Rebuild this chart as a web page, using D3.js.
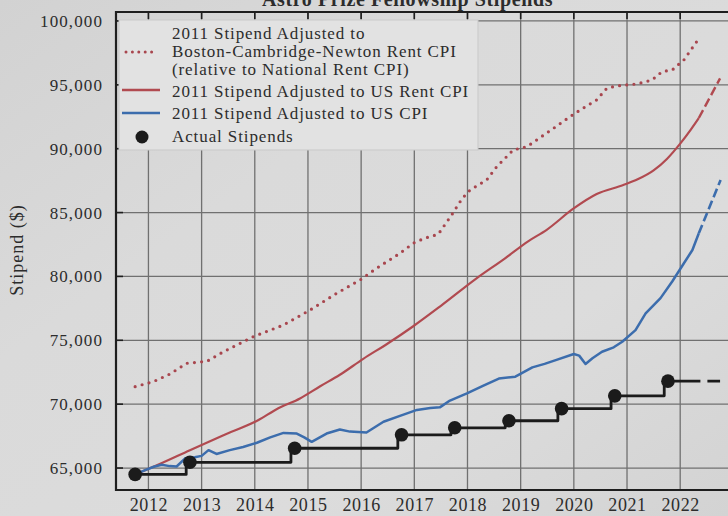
<!DOCTYPE html>
<html>
<head>
<meta charset="utf-8">
<script src="https://cdn.jsdelivr.net/npm/d3@7"></script>
<style>
  html, body { margin: 0; padding: 0; background: #d6d6d6; overflow: hidden; }
  svg { display: block; }
</style>
</head>
<body>
<svg id="chart" width="728" height="516"></svg>
<script>
// ---- data -------------------------------------------------------------
const yearTicks = [2012, 2013, 2014, 2015, 2016, 2017, 2018, 2019, 2020, 2021, 2022];
const stipendTicks = [65000, 70000, 75000, 80000, 85000, 90000, 95000, 100000];

// [decimal year, dollars]
const actualStipends = [
  [2011.75, 64500], [2012.78, 65450], [2014.75, 66550], [2016.76, 67600],
  [2017.76, 68150], [2018.78, 68700], [2019.77, 69650], [2020.77, 70650],
  [2021.77, 71800]
];
const stipendTailSolidEnd = 2022.38;
const stipendTailEnd = 2022.75;

const usCpi = [
  [2011.75, 64500], [2011.95, 64850], [2012.1, 65100], [2012.25, 65250], [2012.4, 65150],
  [2012.53, 65120], [2012.69, 65760], [2012.87, 65850], [2013.0, 65950], [2013.13, 66400],
  [2013.28, 66100], [2013.53, 66400], [2013.78, 66650], [2014.04, 66980], [2014.29, 67400],
  [2014.54, 67750], [2014.79, 67700], [2014.93, 67400], [2015.07, 67050], [2015.35, 67700],
  [2015.6, 68020], [2015.79, 67850], [2016.1, 67780], [2016.42, 68620], [2016.73, 69080],
  [2017.05, 69550], [2017.3, 69700], [2017.48, 69750], [2017.67, 70280], [2017.99, 70850],
  [2018.3, 71450], [2018.59, 72000], [2018.9, 72150], [2019.22, 72880], [2019.45, 73150],
  [2019.66, 73450], [2020.0, 73930], [2020.1, 73800], [2020.22, 73150], [2020.35, 73600],
  [2020.53, 74100], [2020.75, 74450], [2020.91, 74890], [2021.16, 75800], [2021.35, 77100],
  [2021.63, 78300], [2021.85, 79600], [2022.07, 81030], [2022.23, 82070], [2022.35, 83380]
];
const usCpiProjected = [[2022.35, 83380], [2022.76, 87550]];

const usRentCpi = [
  [2011.75, 64500], [2012.2, 65300], [2012.78, 66400], [2013.4, 67550], [2014.07, 68760],
  [2014.41, 69600], [2014.85, 70450], [2015.23, 71400], [2015.6, 72300], [2016.04, 73550],
  [2016.5, 74750], [2016.98, 76100], [2017.5, 77700], [2018.17, 79850], [2018.7, 81400],
  [2019.14, 82750], [2019.49, 83650], [2019.99, 85300], [2020.43, 86450], [2020.93, 87150],
  [2021.2, 87600], [2021.5, 88300], [2021.75, 89200], [2022.0, 90400], [2022.2, 91500],
  [2022.35, 92400]
];
const usRentCpiProjected = [[2022.35, 92400], [2022.75, 95500]];

const bostonRentCpi = [
  [2011.75, 71370], [2012.09, 71760], [2012.4, 72350], [2012.72, 73200], [2013.1, 73350],
  [2013.41, 74100], [2013.97, 75280], [2014.54, 76200], [2015.04, 77370], [2015.54, 78680],
  [2015.98, 79720], [2016.29, 80640], [2016.73, 81810], [2016.98, 82600], [2017.2, 83000],
  [2017.45, 83300], [2017.7, 84800], [2017.9, 86100], [2018.05, 86770], [2018.36, 87550],
  [2018.55, 88590], [2018.86, 89900], [2019.12, 90160], [2019.62, 91600], [2019.93, 92510],
  [2020.12, 93030], [2020.43, 93820], [2020.62, 94730], [2020.81, 94910], [2021.19, 95070],
  [2021.47, 95380], [2021.66, 96030], [2021.85, 96160], [2022.07, 96950], [2022.31, 98380]
];

const legendLabels = {
  boston: ["2011 Stipend Adjusted to", "Boston-Cambridge-Newton Rent CPI", "(relative to National Rent CPI)"],
  rent: "2011 Stipend Adjusted to US Rent CPI",
  cpi: "2011 Stipend Adjusted to US CPI",
  actual: "Actual Stipends"
};
const titleText = "Astro Prize Fellowship Stipends";
const yAxisLabel = "Stipend ($)";

// ---- styling ----------------------------------------------------------
const COLORS = {
  red: "#b14a50",
  boston: "#a8464e",
  blue: "#3c6dad",
  black: "#1b1b1b",
  text: "#2c2c2c",
  grid: "#707070",
  frame: "#1e1e1e"
};
const SERIF = "'Liberation Serif', 'DejaVu Serif', serif";

// ---- layout -----------------------------------------------------------
const svg = d3.select("#chart");
const W = 728, H = 516;
const plot = { left: 116, right: 744, top: 12, bottom: 490 };

const x = d3.scaleLinear().domain([2011.39, 2023.2]).range([plot.left, plot.right]);
const y = d3.scaleLinear().domain([63280, 100700]).range([plot.bottom, plot.top]);

// paper background
const defs = svg.append("defs");
const paper = defs.append("linearGradient").attr("id", "paper").attr("x1", 0).attr("x2", 1).attr("y1", 0).attr("y2", 1);
paper.append("stop").attr("offset", 0).attr("stop-color", "#d2d2d2");
paper.append("stop").attr("offset", 0.35).attr("stop-color", "#dadada");
paper.append("stop").attr("offset", 0.7).attr("stop-color", "#dcdcdc");
paper.append("stop").attr("offset", 1).attr("stop-color", "#d3d3d3");
svg.append("rect").attr("width", W).attr("height", H).attr("fill", "url(#paper)");

// title (runs off the top edge of the page)
svg.append("text")
  .attr("x", 262).attr("y", 6)
  .attr("font-family", SERIF).attr("font-size", 20).attr("font-weight", "bold")
  .attr("letter-spacing", 0.6)
  .attr("fill", COLORS.text)
  .text(titleText);

// grid
const grid = svg.append("g").attr("stroke", COLORS.grid).attr("stroke-width", 1.3);
grid.selectAll("line.v").data(yearTicks).join("line")
  .attr("x1", d => x(d)).attr("x2", d => x(d))
  .attr("y1", plot.top).attr("y2", plot.bottom);
grid.selectAll("line.h").data(stipendTicks).join("line")
  .attr("x1", plot.left).attr("x2", plot.right)
  .attr("y1", d => y(d)).attr("y2", d => y(d));

// tick marks on the frame
const ticks = svg.append("g").attr("stroke", COLORS.frame).attr("stroke-width", 1.6);
ticks.selectAll("line.t").data(yearTicks).join("line")
  .attr("x1", d => x(d)).attr("x2", d => x(d))
  .attr("y1", plot.top).attr("y2", plot.top + 7);
ticks.selectAll("line.l").data(stipendTicks).join("line")
  .attr("x1", plot.left).attr("x2", plot.left + 7)
  .attr("y1", d => y(d)).attr("y2", d => y(d));

// frame
svg.append("path")
  .attr("d", `M${plot.right},${plot.top}H${plot.left}V${plot.bottom}H${plot.right}`)
  .attr("fill", "none").attr("stroke", COLORS.frame).attr("stroke-width", 2.2);

// axis labels via d3 axes (domain/ticks hidden, labels only)
const yAxis = svg.append("g")
  .attr("transform", `translate(${plot.left},0)`)
  .call(d3.axisLeft(y).tickValues(stipendTicks).tickFormat(d3.format(",")).tickSize(0).tickPadding(13));
yAxis.select(".domain").remove();
yAxis.selectAll("text")
  .attr("font-family", SERIF).attr("font-size", 17).attr("letter-spacing", 1.1)
  .attr("fill", COLORS.text);

const xAxis = svg.append("g")
  .attr("transform", `translate(0,${plot.bottom})`)
  .call(d3.axisBottom(x).tickValues(yearTicks).tickFormat(d3.format("d")).tickSize(0).tickPadding(8));
xAxis.select(".domain").remove();
xAxis.selectAll("text")
  .attr("font-family", SERIF).attr("font-size", 18).attr("letter-spacing", 0.6)
  .attr("fill", COLORS.text);

svg.append("text")
  .attr("transform", `translate(23,250) rotate(-90)`)
  .attr("text-anchor", "middle")
  .attr("font-family", SERIF).attr("font-size", 18).attr("letter-spacing", 1)
  .attr("fill", COLORS.text)
  .text(yAxisLabel);

// ---- series -----------------------------------------------------------
const line = d3.line().x(d => x(d[0])).y(d => y(d[1]));
const smooth = d3.line().x(d => x(d[0])).y(d => y(d[1])).curve(d3.curveMonotoneX);

// Boston-Cambridge-Newton: dotted
svg.append("path").datum(bostonRentCpi)
  .attr("d", line).attr("fill", "none")
  .attr("stroke", COLORS.boston).attr("stroke-width", 3.2)
  .attr("stroke-linecap", "round").attr("stroke-dasharray", "0 7.2");

// US rent CPI
svg.append("path").datum(usRentCpi)
  .attr("d", smooth).attr("fill", "none")
  .attr("stroke", COLORS.red).attr("stroke-width", 2.2);
svg.append("path").datum(usRentCpiProjected)
  .attr("d", line).attr("fill", "none")
  .attr("stroke", COLORS.red).attr("stroke-width", 2.4).attr("stroke-dasharray", "9 4");

// US CPI
svg.append("path").datum(usCpi)
  .attr("d", line).attr("fill", "none")
  .attr("stroke", COLORS.blue).attr("stroke-width", 2.5).attr("stroke-linejoin", "round");
svg.append("path").datum(usCpiProjected)
  .attr("d", line).attr("fill", "none")
  .attr("stroke", COLORS.blue).attr("stroke-width", 2.6).attr("stroke-dasharray", "9 4");

// actual stipends: step line (raise lands just before each award date)
const stepPts = [];
actualStipends.forEach((d, i) => {
  stepPts.push(d);
  const next = actualStipends[i + 1];
  if (next) {
    stepPts.push([next[0] - 0.07, d[1]]);
    stepPts.push([next[0] - 0.07, next[1]]);
  }
});
const lastStipend = actualStipends[actualStipends.length - 1];
stepPts.push([stipendTailSolidEnd, lastStipend[1]]);

svg.append("path").datum(stepPts)
  .attr("d", line).attr("fill", "none")
  .attr("stroke", COLORS.black).attr("stroke-width", 2.8).attr("stroke-linejoin", "round");
svg.append("path").datum([[stipendTailSolidEnd, lastStipend[1]], [stipendTailEnd, lastStipend[1]]])
  .attr("d", line).attr("fill", "none")
  .attr("stroke", COLORS.black).attr("stroke-width", 2.8).attr("stroke-dasharray", "0 7 14 100");

svg.append("g").selectAll("circle").data(actualStipends).join("circle")
  .attr("cx", d => x(d[0])).attr("cy", d => y(d[1])).attr("r", 6.8)
  .attr("fill", COLORS.black);

// ---- legend -----------------------------------------------------------
const lg = svg.append("g");
lg.append("rect")
  .attr("x", 119).attr("y", 20).attr("width", 359).attr("height", 130)
  .attr("fill", "#e2e2e2").attr("stroke", "#c9c9c9").attr("stroke-width", 1);

const lgText = (tx, ty, s) => lg.append("text")
  .attr("x", tx).attr("y", ty)
  .attr("font-family", SERIF).attr("font-size", 17).attr("letter-spacing", 0.9)
  .attr("fill", COLORS.text).text(s);

lg.append("line").attr("x1", 126).attr("x2", 158).attr("y1", 52).attr("y2", 52)
  .attr("stroke", COLORS.boston).attr("stroke-width", 3).attr("stroke-linecap", "round")
  .attr("stroke-dasharray", "0 6.4");
legendLabels.boston.forEach((s, i) => lgText(172, 39 + i * 18, s));

lg.append("line").attr("x1", 122).attr("x2", 160).attr("y1", 90).attr("y2", 90)
  .attr("stroke", COLORS.red).attr("stroke-width", 2.6);
lgText(172, 97, legendLabels.rent);

lg.append("line").attr("x1", 122).attr("x2", 160).attr("y1", 113).attr("y2", 113)
  .attr("stroke", COLORS.blue).attr("stroke-width", 2.6);
lgText(172, 119, legendLabels.cpi);

lg.append("circle").attr("cx", 142).attr("cy", 137).attr("r", 6.5).attr("fill", COLORS.black);
lgText(172, 142, legendLabels.actual);
</script>
</body>
</html>
